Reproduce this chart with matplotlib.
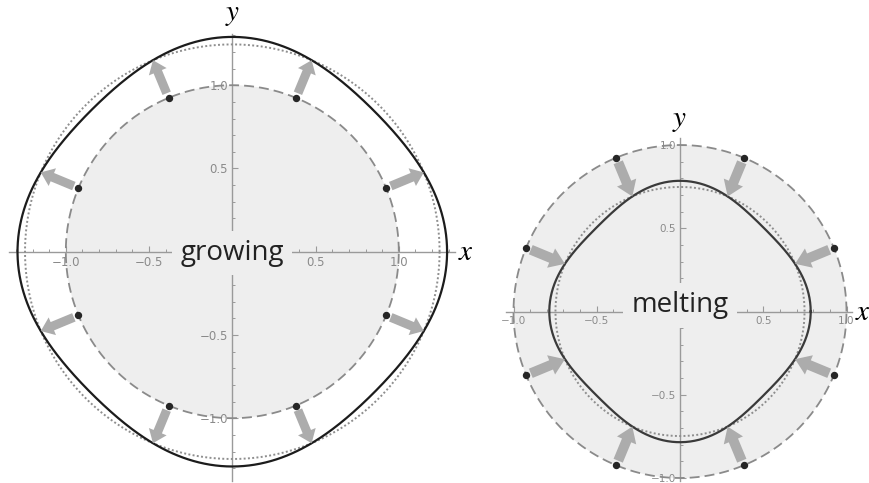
import numpy as np
import matplotlib
matplotlib.use("Agg")
import matplotlib.pyplot as plt

plt.rcParams["mathtext.fontset"] = "stix"

# seed circle, mean front radius and 4-fold amplitude of the perturbed front
grow_seed_r = 1.0
grow_mean_r = 1.245
grow_amp = 0.045
melt_seed_r = 1.0
melt_mean_r = 0.748
melt_amp = 0.037

# marker positions on the seed circle (degrees)
dot_angles = [22.5, 67.5, 112.5, 157.5, 202.5, 247.5, 292.5, 337.5]

tick_vals = [-1.0, -0.5, 0.5, 1.0]
tick_text = ["\u22121.0", "\u22120.5", "0.5", "1.0"]
minor_vals = np.round(np.arange(-1.3, 1.31, 0.1), 2)

W, H = 869, 483
S = 166.5  # pixels per unit

FILL = "#eeeeee"
AXC = "#9a9a9a"
ARROWC = "#acacac"

fig = plt.figure(figsize=(W / 100, H / 100), dpi=100)


def add_panel(cx, cy, xlim, ylim):
    left = (cx + xlim[0] * S) / W
    width = (xlim[1] - xlim[0]) * S / W
    bottom = (H - (cy - ylim[0] * S)) / H
    height = (ylim[1] - ylim[0]) * S / H
    ax = fig.add_axes([left, bottom, width, height])
    ax.patch.set_visible(False)
    return ax


def style_axes(ax, xb, yb, fs, xlim, ylim):
    for side in ["top", "right"]:
        ax.spines[side].set_visible(False)
    for side in ["left", "bottom"]:
        ax.spines[side].set_position(("data", 0))
        ax.spines[side].set_color(AXC)
        ax.spines[side].set_linewidth(1.0)
        ax.spines[side].set_zorder(2)
    ax.spines["bottom"].set_bounds(*xb)
    ax.spines["left"].set_bounds(*yb)
    ax.set_xticks(tick_vals)
    ax.set_xticklabels(tick_text)
    ax.set_yticks(tick_vals)
    ax.set_yticklabels(tick_text)
    ax.xaxis.set_minor_locator(plt.FixedLocator(
        [v for v in minor_vals if xb[0] <= v <= xb[1]]))
    ax.yaxis.set_minor_locator(plt.FixedLocator(
        [v for v in minor_vals if yb[0] <= v <= yb[1]]))
    ax.tick_params(which="both", direction="in", color=AXC, labelcolor="#8a8a8a",
                   labelsize=fs, pad=3)
    ax.tick_params(which="major", length=4, width=0.8)
    ax.tick_params(which="minor", length=2.5, width=0.7)
    # limits last so the tick setters cannot widen them
    ax.set_xlim(*xlim)
    ax.set_ylim(*ylim)


def draw_front(ax, seed_r, mean_r, amp, growing, label, curve_color):
    th = np.linspace(0, 2 * np.pi, 721)
    # shaded seed disk
    ax.fill(seed_r * np.cos(th), seed_r * np.sin(th), color=FILL, lw=0, zorder=1)
    # dashed seed circle and dotted mean circle
    ax.plot(seed_r * np.cos(th), seed_r * np.sin(th), color="#8a8a8a", lw=1.3,
            ls=(0, (5.5, 2.8)), zorder=3)
    ax.plot(mean_r * np.cos(th), mean_r * np.sin(th), color="#8e8e8e", lw=1.4,
            ls=(0, (1, 1.2)), zorder=3)
    # perturbed front
    r = mean_r + amp * np.cos(4 * th)
    ax.plot(r * np.cos(th), r * np.sin(th), color=curve_color, lw=1.6, zorder=4)

    for a in np.radians(dot_angles):
        c, s = np.cos(a), np.sin(a)
        r_tip = mean_r + amp * np.cos(4 * a)
        if growing:
            r0 = seed_r + 0.03
            w, hw, hl = 0.054, 0.115, 0.075
        else:
            r0 = seed_r - 0.03
            w, hw, hl = 0.06, 0.125, 0.09
        ax.arrow(r0 * c, r0 * s, (r_tip - r0) * c, (r_tip - r0) * s,
                 width=w, head_width=hw, head_length=hl,
                 length_includes_head=True, color=ARROWC, lw=0, zorder=5)
        ax.plot(seed_r * c, seed_r * s, "o", ms=4.3, color="#262626", zorder=6)

    ax.text(0, -0.05 if growing else -0.005, label, ha="center", va="baseline",
            fontsize=20, family="Open Sans", color="#222222", zorder=3.5,
            bbox=dict(boxstyle="square,pad=0.3", fc=FILL, ec="none"))


# growing
lim1 = ((-1.39, 1.39), (-1.385, 1.51))
ax1 = add_panel(232.3, 251.7, *lim1)
draw_front(ax1, grow_seed_r, grow_mean_r, grow_amp, True, "growing", "#1c1c1c")
style_axes(ax1, (-1.34, 1.335), (-1.38, 1.31), 8.5, *lim1)
ax1.text(1.355, 0.0, "$x$", ha="left", va="center", fontsize=21)
ax1.text(0.0, 1.43, "$y$", ha="center", va="center", fontsize=21)

# melting
lim2 = ((-1.2, 1.2), (-1.025, 1.25))
ax2 = add_panel(680.0, 311.5, *lim2)
draw_front(ax2, melt_seed_r, melt_mean_r, melt_amp, False, "melting", "#3a3a3a")
style_axes(ax2, (-1.045, 1.035), (-1.02, 1.04), 7.5, *lim2)
ax2.text(1.05, 0.0, "$x$", ha="left", va="center", fontsize=21)
ax2.text(0.0, 1.15, "$y$", ha="center", va="center", fontsize=21)

fig.savefig("out.png", dpi=100)
